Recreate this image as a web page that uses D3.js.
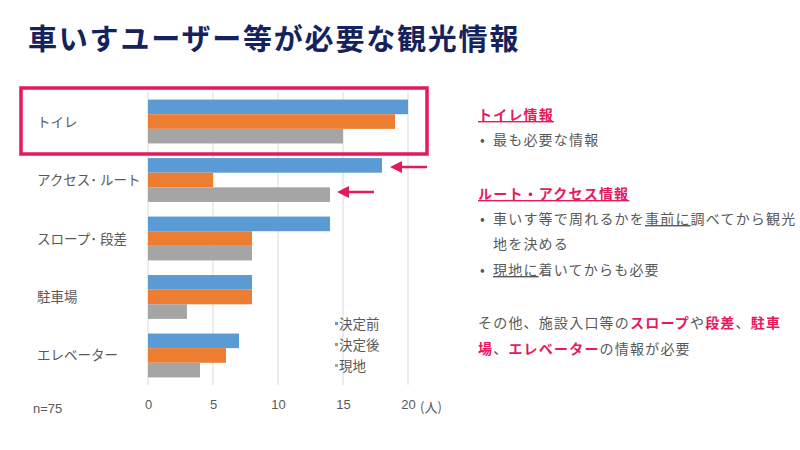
<!DOCTYPE html>
<html><head><meta charset="utf-8">
<script src="https://cdn.jsdelivr.net/npm/d3@7"></script>
<style>body{margin:0;background:#fff}svg{font-family:"Noto Sans CJK JP","Noto Sans",sans-serif}</style>
</head><body><svg id="c" width="800" height="450"></svg>
<script>
const categories=["トイレ","アクセス･ ルート","スロープ･ 段差","駐車場","エレベーター"];
const seriesNames=["決定前","決定後","現地"];
const before=[20,18,14,8,7];
const after=[19,5,8,8,6];
const onsite=[15,14,8,3,4];
const ticks=[0,5,10,15,20];
const colors=["#5b9bd5","#ed7d31","#a5a5a5"];
const svg=d3.select("#c");
const pink="#e5195e", grayText="#595959";
svg.append("text").attr("x",28).attr("y",50).attr("font-size",29).attr("letter-spacing",1.8).attr("font-weight","bold").attr("fill","#14235c").text("車いすユーザー等が必要な観光情報");
const x=d3.scaleLinear().domain([0,20]).range([148,408]);
const y=d3.scaleBand().domain(categories).range([92,385]).paddingInner(0.25).paddingOuter(0.13);
const sub=d3.scaleBand().domain(seriesNames).range([0,y.bandwidth()]);
const g=svg.append("g");
g.selectAll("line.grid").data(ticks).join("line").attr("x1",d=>x(d)).attr("x2",d=>x(d)).attr("y1",92).attr("y2",385).attr("stroke","#d9d9d9").attr("stroke-width",1);
const series=[before,after,onsite];
series.forEach((s,i)=>{
 g.selectAll("rect.s"+i).data(s).join("rect").attr("x",x(0)).attr("y",(d,j)=>y(categories[j])+sub(seriesNames[i])).attr("width",d=>x(d)-x(0)).attr("height",sub.bandwidth()).attr("fill",colors[i]);
});
const ax=d3.axisBottom(x).tickValues(ticks).tickSize(0).tickPadding(0);
const axg=svg.append("g").attr("transform","translate(0,400)").call(ax);
axg.select(".domain").remove();
axg.selectAll("text").attr("font-size",13).attr("fill",grayText).attr("dy","0.7em").attr("font-family","Liberation Sans, Arial");
svg.append("text").attr("x",420).attr("y",412).attr("font-size",13).attr("fill",grayText).text("(人)");
svg.append("text").attr("x",33).attr("y",413).attr("font-size",13).attr("fill",grayText).attr("font-family","Liberation Sans, Arial").text("n=75");
svg.selectAll("text.cat").data(categories).join("text").attr("x",37).attr("y",d=>y(d)+y.bandwidth()/2+5).attr("font-size",13.5).attr("fill",grayText).text(d=>d);
seriesNames.forEach((n,i)=>{
 svg.append("rect").attr("x",335).attr("y",322+i*21).attr("width",3).attr("height",3).attr("fill",colors[i]);
 svg.append("text").attr("x",339).attr("y",329+i*21).attr("font-size",13.5).attr("fill",grayText).text(n);
});
svg.append("rect").attr("x",21).attr("y",88).attr("width",406).attr("height",66).attr("fill","none").attr("stroke",pink).attr("stroke-width",3.5);
function arrow(x1,x2,yy){
 svg.append("line").attr("x1",x1).attr("x2",x2+8).attr("y1",yy).attr("y2",yy).attr("stroke",pink).attr("stroke-width",2.5);
 svg.append("path").attr("d",`M${x2},${yy} L${x2+12},${yy-6} L${x2+12},${yy+6}Z`).attr("fill",pink);
}
arrow(427,390,167);
arrow(374,337,192);
const t=svg.append("g").attr("font-size",14).attr("letter-spacing",1.2);
function line(xx,yy,parts){const tx=t.append("text").attr("x",xx).attr("y",yy);parts.forEach(p=>tx.append("tspan").text(p[0]).attr("fill",p[1]||grayText).attr("font-weight",p[2]?"bold":null).attr("text-decoration",p[3]?"underline":null));}
function bullet(yy){t.append("text").attr("x",480).attr("y",yy).attr("fill",grayText).text("•");}
line(478,120,[["トイレ情報",pink,1,1]]);
bullet(145);line(493,145,[["最も必要な情報"]]);
line(478,199,[["ルート・アクセス情報",pink,1,1]]);
bullet(224);line(493,224,[["車いす等で周れるかを"],["事前に",grayText,0,1],["調べてから観光"]]);
line(493,249,[["地を決める"]]);
bullet(275);line(493,275,[["現地に",grayText,0,1],["着いてからも必要"]]);
line(478,328,[["その他、施設入口等の"],["スロープ",pink,1],["や"],["段差",pink,1],["、"],["駐車",pink,1]]);
line(478,354,[["場",pink,1],["、"],["エレベーター",pink,1],["の情報が必要"]]);
</script></body></html>
